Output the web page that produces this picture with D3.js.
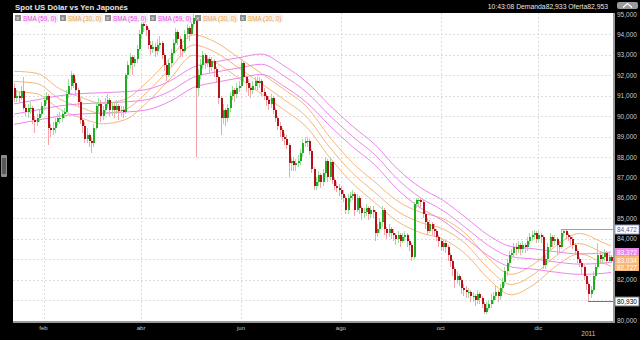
<!DOCTYPE html>
<html>
<head>
<meta charset="utf-8">
<script src="https://cdn.jsdelivr.net/npm/d3@7"></script>
<style>
  html, body { margin: 0; background: #000; }
  svg { display: block; font-family: "Liberation Sans", Arial, sans-serif; }
</style>
</head>
<body>
<svg id="chart" width="640" height="340"></svg>
<script>
// daily closes, Spot USD/JPY
const firstOpen = 91.4
const closes = [
  90.9,91.0,90.9,91.25,90.4,90.2,90.4,90.4,89.8,89.7,
  89.9,90.1,90.5,90.8,91.0,89.4,89.3,89.4,89.7,89.9,
  89.9,90.1,90.2,91.1,91.5,92.0,91.6,91.3,90.7,89.8,
  89.5,88.9,89.1,88.8,88.7,89.4,90.5,90.6,90.0,90.3,
  90.6,90.8,90.3,90.5,90.3,90.5,90.25,90.3,90.2,92.0,
  92.5,92.9,92.6,92.8,93.3,94.0,94.5,94.4,94.2,93.5,
  93.3,93.4,93.2,93.5,93.6,93.0,92.5,92.0,92.6,93.1,
  93.6,94.1,93.8,93.3,93.2,94.0,94.3,94.0,94.5,94.8,
  91.4,92.0,92.5,93.0,92.6,92.8,92.4,92.7,92.3,91.9,
  90.9,89.9,90.3,89.9,90.4,91.0,91.3,91.1,91.4,91.5,
  92.6,91.9,91.6,91.4,91.3,91.5,91.7,91.6,91.7,91.2,
  91.0,90.8,90.6,90.9,90.3,89.9,89.5,89.3,89.0,88.9,
  88.6,87.7,87.8,87.6,87.7,87.8,88.2,88.7,88.8,88.8,
  88.3,87.4,86.6,86.8,87.1,86.8,87.2,87.8,87.0,87.75,
  86.9,86.6,86.5,86.4,86.2,86.0,85.4,86.0,86.1,86.2,
  85.4,86.0,85.5,85.25,85.3,85.5,85.2,85.4,85.3,84.3,
  84.5,84.8,85.4,84.5,84.3,84.5,84.3,84.2,84.0,84.2,
  83.9,84.1,84.2,83.9,83.7,83.1,85.7,85.9,85.9,85.8,
  85.2,84.8,84.4,84.7,84.5,84.4,84.1,83.9,83.6,83.8,
  83.6,83.2,82.9,82.5,82.0,82.2,82.0,81.6,81.5,81.4,
  81.4,81.2,81.2,81.0,81.3,81.1,80.8,80.4,80.6,80.8,
  81.0,81.2,81.4,81.2,81.6,81.9,82.4,82.8,83.2,83.3,
  83.6,83.5,83.7,83.5,83.7,83.6,83.9,84.1,84.2,84.3,
  84.0,84.2,84.1,82.7,83.0,83.6,84.1,83.9,84.0,83.7,
  83.6,84.3,84.4,84.2,84.1,84.0,83.7,83.4,83.0,82.8,
  82.6,82.2,81.8,81.3,81.5,82.2,82.6,83.2,83.0,83.1,
  83.3,82.9,83.1,82.93
]
const highs = [
  91.6,91.3,91.2,91.5,91.9,90.6,90.6,90.7,90.5,90.0,
  90.1,90.3,90.7,91.0,91.2,91.1,89.6,89.7,89.9,90.1,
  90.2,90.3,90.4,91.3,91.8,92.2,92.1,91.8,91.4,90.9,
  89.9,89.7,89.4,89.2,89.0,89.6,90.7,90.9,90.8,90.5,
  90.9,91.1,90.9,90.7,90.7,90.8,90.6,90.5,90.5,92.1,
  92.7,93.1,93.0,93.0,93.5,94.2,94.75,94.7,94.5,94.3,
  93.7,93.7,93.6,93.8,93.9,93.7,93.1,92.6,92.8,93.3,
  93.8,94.3,94.2,93.9,93.5,94.2,94.5,94.4,94.7,94.98,
  94.9,92.3,92.8,93.2,93.1,93.0,92.9,92.9,92.8,92.4,
  92.0,91.0,90.6,90.4,90.6,91.2,91.5,91.4,91.6,91.7,
  92.8,92.7,92.0,91.8,91.6,91.7,91.9,91.9,91.9,91.8,
  91.4,91.1,91.0,91.1,91.0,90.4,90.0,89.7,89.4,89.2,
  89.1,88.7,88.0,88.0,87.9,88.1,88.4,88.9,89.0,89.0,
  88.9,88.4,87.5,87.0,87.3,87.2,87.4,88.0,87.9,88.0,
  87.8,87.0,86.8,86.7,86.6,86.4,86.1,86.2,86.3,86.4,
  86.3,86.2,86.1,85.6,85.5,85.7,85.6,85.6,85.6,85.4,
  84.7,85.0,85.6,85.5,84.6,84.7,84.6,84.5,84.3,84.4,
  84.3,84.3,84.4,84.3,84.0,83.8,85.8,86.0,86.0,86.0,
  85.9,85.3,85.0,84.9,84.8,84.7,84.5,84.2,84.0,84.0,
  83.9,83.7,83.3,83.0,82.6,82.4,82.3,82.1,81.8,81.7,
  81.6,81.5,81.4,81.3,81.5,81.4,81.2,80.9,80.9,81.0,
  81.3,81.4,81.7,81.5,81.8,82.1,82.6,83.0,83.4,83.5,
  83.8,83.8,83.9,83.8,83.9,83.8,84.1,84.3,84.4,84.45,
  84.4,84.4,84.3,84.2,83.2,83.8,84.3,84.2,84.2,84.1,
  83.9,84.472,84.45,84.45,84.3,84.2,84.1,83.8,83.5,83.1,
  82.9,82.7,82.3,81.9,81.7,82.4,82.8,83.8,83.4,83.3,
  83.5,83.4,83.3,83.2
]
const lows = [
  90.7,90.7,90.7,90.8,90.3,90.0,89.9,90.1,89.6,89.2,
  89.5,89.7,90.0,90.3,90.6,88.6,89.0,89.1,89.2,89.5,
  89.6,89.7,89.9,90.1,90.9,91.3,91.4,91.0,90.5,89.6,
  89.2,88.7,88.7,88.5,88.2,88.5,89.3,90.2,89.7,89.8,
  90.1,90.4,90.0,90.0,89.9,90.1,89.8,90.0,89.9,90.1,
  91.8,92.3,92.0,92.4,92.6,93.2,93.8,94.1,93.9,93.3,
  93.0,93.1,92.9,93.0,93.3,92.8,92.2,91.7,91.9,92.4,
  93.0,93.5,93.5,92.9,92.9,93.1,93.8,93.7,93.9,94.3,
  88.0,91.0,91.8,92.3,92.3,92.4,92.1,92.2,91.9,91.6,
  90.6,89.1,89.6,89.5,89.7,90.2,90.8,90.7,90.9,91.2,
  91.4,91.7,91.2,91.0,90.9,91.1,91.3,91.3,91.4,91.0,
  90.8,90.5,90.3,90.4,90.1,89.7,89.3,89.0,88.8,88.6,
  88.4,87.0,87.3,87.3,87.3,87.5,87.6,88.0,88.5,88.5,
  88.1,87.2,86.4,86.4,86.6,86.5,86.6,87.0,86.8,86.9,
  86.7,86.4,86.3,86.1,85.9,85.8,85.2,85.2,85.8,85.9,
  85.1,85.3,85.2,84.9,85.0,85.1,84.9,85.0,85.0,83.9,
  84.1,84.3,84.6,84.2,84.0,84.1,84.0,83.9,83.7,83.8,
  83.6,83.8,83.9,83.6,83.4,82.9,83.0,85.5,85.6,85.5,
  85.0,84.5,84.2,84.3,84.2,84.1,83.9,83.6,83.4,83.4,
  83.3,82.9,82.6,82.2,81.6,81.8,81.7,81.3,81.2,81.1,
  81.1,80.9,80.9,80.7,80.8,80.8,80.6,80.3,80.3,80.5,
  80.6,80.8,81.0,80.9,81.0,81.4,81.7,82.2,82.6,83.0,
  83.1,83.2,83.3,83.2,83.3,83.3,83.4,83.7,83.9,84.0,
  83.8,83.8,83.8,82.5,82.5,82.9,83.4,83.6,83.7,83.2,
  83.3,83.5,84.1,84.0,83.9,83.7,83.5,83.2,82.8,82.6,
  82.3,82.0,81.5,80.93,81.1,81.4,82.0,82.5,82.8,82.8,
  82.9,82.7,82.8,82.8
]

// moving averages, sampled off the chart at these candle indices
const smaIdx = [0,10,20,29,39,49,59,69,79,89,99,109,119,129,139,149,159,169,179,189,199,209,219,229,239,249,259,263]
const sma30 = [91.7,91.6,90.85,90.44,90.13,90.33,91.21,92.36,93.48,93.11,92.36,91.59,90.81,89.95,88.49,87.23,86.27,85.34,84.8,84.48,83.75,82.54,81.76,82.26,83.18,83.76,83.34,83.15]
const sma59 = [90.1,90.3,90.5,90.6,90.65,90.7,90.82,91.24,91.9,92.16,92.36,92.54,91.96,91.16,90.04,89.02,88.11,86.91,86.01,85.38,84.54,83.67,83.12,83.01,82.86,82.76,82.8,82.85]
const sma30Band = 0.5
const sma59Band = 0.5

const yTicks = [80,81,82,83,84,85,86,87,88,89,90,91,92,93,94,95]
const monthLabels = ['feb', 'abr', 'jun', 'ago', 'oct', 'dic']
const monthIdx = [13, 56, 100, 144, 188, 231]
const yearLabel = '2011'
const yearIdx = 253

const legendItems = ['SMA (59, 0)', 'SMA (30, 0)', 'SMA (59, 0)', 'SMA (59, 0)', 'SMA (30, 0)', 'SMA (30, 0)']

const rangeHigh = 84.472, rangeHighIdx = 241
const rangeLow = 80.930, rangeLowIdx = 253
const lastLabels = [{v: 83.372, txt: '83,372', c: 'sma59'}, {v: 83.034, txt: '83,034', c: 'sma30'}, {v: 82.727, txt: '82,727', c: 'sma30'}]

const title = 'Spot US Dólar vs Yen Japonés'
const quote = '10:43:08  Demanda82,933  Oferta82,953'

const colors = {
  up: '#1fae1f', down: '#b3121a', upWick: '#9fdc9f', downWick: '#f2a4a8',
  sma59: '#ee84ee', sma30: '#f6b779', grid: '#dedede'
}

const plot = {left: 13, right: 613, top: 13, bottom: 321}
const svg = d3.select('#chart')
const fmt = v => d3.format('.3f')(v).replace('.', ',')

const x = d3.scaleLinear().domain([0, closes.length - 1]).range([14, 611])
const y = d3.scaleLinear().domain([80, 95]).range([320.5, 14])

svg.append('rect').attr('width', 640).attr('height', 340).attr('fill', '#000')
svg.append('rect')
  .attr('x', plot.left).attr('y', plot.top)
  .attr('width', plot.right - plot.left).attr('height', plot.bottom - plot.top)
  .attr('fill', '#fff')

// grid
const grid = svg.append('g').attr('shape-rendering', 'crispEdges')
grid.selectAll('.hg').data(yTicks.slice(1, -1)).join('line')
  .attr('x1', plot.left).attr('x2', plot.right)
  .attr('y1', d => Math.round(y(d)) + 0.5).attr('y2', d => Math.round(y(d)) + 0.5)
  .attr('stroke', colors.grid).attr('stroke-dasharray', '2,2')
grid.selectAll('.vg').data(monthIdx).join('line')
  .attr('x1', d => Math.round(x(d)) + 0.5).attr('x2', d => Math.round(x(d)) + 0.5)
  .attr('y1', plot.top).attr('y2', plot.bottom)
  .attr('stroke', colors.grid).attr('stroke-dasharray', '2,2')

// moving average bands
const smaLine = d3.line().x(d => x(d[0])).y(d => y(d[1])).curve(d3.curveMonotoneX)
const bands = [{vals: sma30, band: sma30Band, c: colors.sma30}, {vals: sma59, band: sma59Band, c: colors.sma59}]
bands.forEach(({vals, band, c}) => {
  [band, 0, -band].forEach(off => {
    svg.append('path')
      .attr('d', smaLine(smaIdx.map((idx, k) => [idx, vals[k] + off])))
      .attr('fill', 'none').attr('stroke', c).attr('stroke-width', 1)
  })
})

// candles
const candles = closes.map((c, i) => ({i, o: i ? closes[i - 1] : firstOpen, c, h: highs[i], l: lows[i]}))
const cg = svg.append('g').attr('shape-rendering', 'crispEdges')
cg.selectAll('.wick').data(candles).join('line')
  .attr('x1', d => Math.round(x(d.i)) + 0.5).attr('x2', d => Math.round(x(d.i)) + 0.5)
  .attr('y1', d => y(d.h)).attr('y2', d => y(d.l))
  .attr('stroke', d => d.c >= d.o ? colors.upWick : colors.downWick)
cg.selectAll('.body').data(candles).join('rect')
  .attr('x', d => Math.round(x(d.i)))
  .attr('width', 2)
  .attr('y', d => y(Math.max(d.o, d.c)))
  .attr('height', d => Math.max(1, Math.abs(y(d.o) - y(d.c))))
  .attr('fill', d => d.c >= d.o ? colors.up : colors.down)

// range high / low markers
const marks = [{v: rangeHigh, idx: rangeHighIdx, stroke: '#9c9cc8', text: '#5a5aa0'}, {v: rangeLow, idx: rangeLowIdx, stroke: '#777', text: '#000'}]
marks.forEach(m => {
  svg.append('line').attr('shape-rendering', 'crispEdges')
    .attr('x1', x(m.idx)).attr('x2', plot.right)
    .attr('y1', Math.round(y(m.v)) + 0.5).attr('y2', Math.round(y(m.v)) + 0.5)
    .attr('stroke', m.stroke)
})

// plot frame shadow
svg.append('rect').attr('x', plot.right).attr('y', plot.top).attr('width', 2).attr('height', plot.bottom - plot.top + 2).attr('fill', '#9a9a9a')
svg.append('rect').attr('x', plot.left).attr('y', plot.bottom).attr('width', plot.right - plot.left + 2).attr('height', 2).attr('fill', '#9a9a9a')

// right axis
const axis = svg.append('g').attr('font-size', 6.5).attr('fill', '#c8c8c8')
axis.selectAll('text').data(yTicks).join('text')
  .attr('x', 617).attr('y', d => y(d) + 2.5)
  .text(d => fmt(d))

marks.forEach(m => {
  const g = svg.append('g').attr('transform', `translate(615,${Math.round(y(m.v)) - 4})`)
  g.append('rect').attr('width', 24).attr('height', 9).attr('fill', '#fff').attr('stroke', m.stroke)
  g.append('text').attr('x', 2).attr('y', 7).attr('font-size', 6.5).attr('fill', m.text).text(fmt(m.v))
})
lastLabels.forEach((m, k) => {
  const g = svg.append('g').attr('transform', `translate(615,${Math.round(y(m.v)) - 4 + k})`)
  g.append('rect').attr('width', 24).attr('height', 8).attr('fill', colors[m.c])
  g.append('text').attr('x', 2).attr('y', 6.5).attr('font-size', 6.5).attr('fill', '#fff').text(m.txt)
})

// x axis labels
const xl = svg.append('g').attr('font-size', 6).attr('fill', '#c8c8c8').attr('text-anchor', 'middle')
xl.selectAll('text').data(monthLabels).join('text')
  .attr('x', (d, k) => x(monthIdx[k])).attr('y', 330).text(d => d)
xl.append('text').attr('x', x(yearIdx)).attr('y', 336).attr('font-size', 6.5).text(yearLabel)

// legend
const lg = svg.append('g').attr('font-size', 6.3)
legendItems.forEach((t, k) => {
  const g = lg.append('g').attr('transform', `translate(${15 + k * 45},14)`)
  g.append('rect').attr('width', 6).attr('height', 6).attr('y', 1).attr('fill', '#8a8a8a')
  g.append('text').attr('x', 1.2).attr('y', 6).attr('font-size', 5.5).attr('fill', '#fff').text('x')
  g.append('rect').attr('x', 7).attr('width', 36).attr('height', 8).attr('fill', '#f2f2f2')
  g.append('text').attr('x', 8).attr('y', 6.5).attr('fill', t.includes('59') ? '#f040f0' : '#f4a040').text(t)
})

// header
svg.append('text').attr('x', 15).attr('y', 9.5).attr('font-size', 7.8).attr('font-weight', 'bold')
  .attr('fill', '#e6e6e6').text(title)
svg.append('text').attr('x', 608).attr('y', 9).attr('font-size', 6.8).attr('text-anchor', 'end')
  .attr('fill', '#e6e6e6').text(quote)
svg.append('rect').attr('x', 617).attr('y', 2).attr('width', 21).attr('height', 7).attr('rx', 2).attr('fill', '#9a9a9a')
svg.append('path').attr('d', 'M623,7.5 L627.5,3.5 L632,7.5').attr('fill', 'none').attr('stroke', '#fff').attr('stroke-width', 1.2)

// left handle
svg.append('rect').attr('x', 1).attr('y', 155).attr('width', 6).attr('height', 22).attr('rx', 1).attr('fill', '#8c8c8c')
svg.append('rect').attr('x', 2).attr('y', 158).attr('width', 4).attr('height', 16).attr('fill', '#5a5a5a')
</script>
</body>
</html>
